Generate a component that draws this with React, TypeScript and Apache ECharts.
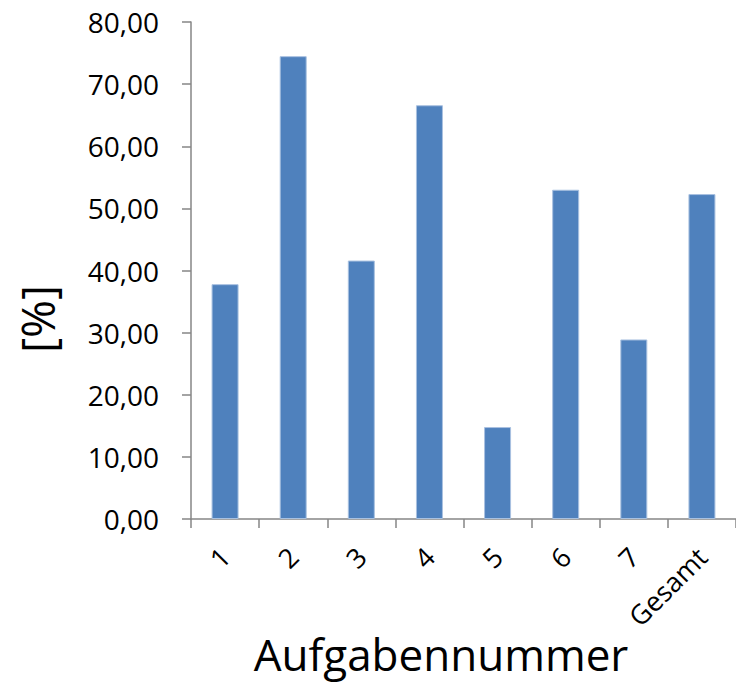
import React, { useEffect, useRef } from "react";
import * as echarts from "echarts";

const categories = ["1", "2", "3", "4", "5", "6", "7", "Gesamt"];
const values = [37.8, 74.5, 41.6, 66.6, 14.8, 53.0, 28.9, 52.3];
const yTicks = { min: 0, max: 80, interval: 10 };
const xTitle = "Aufgabennummer";
const yTitle = "[%]";

export default function App() {
  const ref = useRef<HTMLDivElement>(null);
  useEffect(() => {
    document.body.style.margin = "0";
    const chart = echarts.init(ref.current!, null, { renderer: "svg" });
    const font = "'Open Sans', 'Noto Sans', sans-serif";
    chart.setOption({
      animation: false,
      backgroundColor: "#ffffff",
      grid: { left: 191, top: 22, width: 547, height: 497, containLabel: false },
      xAxis: {
        type: "category",
        data: categories,
        boundaryGap: true,
        axisLine: { lineStyle: { color: "#868686", width: 1.5 } },
        axisTick: { show: true, length: 9, alignWithLabel: false, lineStyle: { color: "#868686", width: 1.5 } },
        axisLabel: {
          rotate: 45,
          margin: 33,
          fontFamily: font,
          fontSize: 27,
          color: "#000000",
          interval: 0,
        },
        splitLine: { show: false },
      },
      yAxis: {
        type: "value",
        min: yTicks.min,
        max: yTicks.max,
        interval: yTicks.interval,
        axisLine: { show: true, lineStyle: { color: "#868686", width: 1.5 } },
        axisTick: { show: true, length: 9, lineStyle: { color: "#868686", width: 1.5 } },
        axisLabel: {
          margin: 32,
          fontFamily: font,
          fontSize: 28,
          color: "#000000",
          formatter: (v: number) => v.toFixed(2).replace(".", ","),
        },
        splitLine: { show: false },
      },
      series: [
        {
          type: "bar",
          data: values,
          barWidth: 27,
          itemStyle: { color: "#4F81BD", borderColor: "#a9c1e0", borderWidth: 1 },
        },
      ],
      graphic: [
        {
          type: "text",
          x: 441,
          y: 654,
          style: {
            text: xTitle,
            font: `44px ${font}`,
            lineHeight: 44,
            fill: "#000000",
            align: "center",
            verticalAlign: "middle",
          },
        },
        {
          type: "text",
          x: 37,
          y: 319,
          rotation: Math.PI / 2,
          style: {
            text: yTitle,
            font: `46px ${font}`,
            fill: "#000000",
            align: "center",
            verticalAlign: "middle",
          },
        },
      ],
    });
    return () => chart.dispose();
  }, []);
  return <div ref={ref} style={{ width: 736, height: 684 }} />;
}
